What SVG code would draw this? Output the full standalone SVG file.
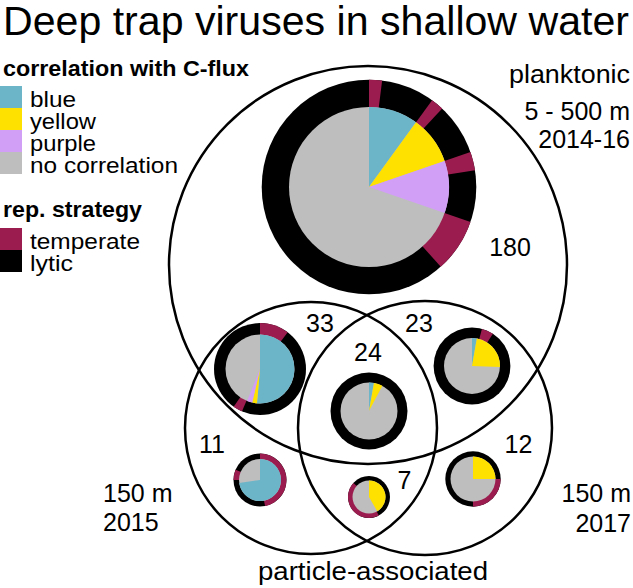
<svg xmlns="http://www.w3.org/2000/svg" width="633" height="588" viewBox="0 0 633 588">
<style>
.t{font-family:"Liberation Sans",Arial,Helvetica,sans-serif;fill:#000}
.h{font-weight:bold;font-size:22px}
.l{font-size:21.5px}
.n{font-size:25px}
.set{fill:none;stroke:#000;stroke-width:2.5}
.b{fill:#6cb5c8}.y{fill:#ffe100}.p{fill:#d19ff6}.g{fill:#bebebe}.m{fill:#9b1d4f}.k{fill:#000}
</style>
<rect width="633" height="588" fill="#fff"/>
<text class="t" x="3" y="35" font-size="40" textLength="626" lengthAdjust="spacingAndGlyphs">Deep trap viruses in shallow water</text>

<g id="legend">
<text class="t h" x="3" y="76" textLength="246" lengthAdjust="spacingAndGlyphs">correlation with C-flux</text>
<rect class="b" x="0" y="86" width="22" height="22"/>
<rect class="y" x="0" y="108" width="22" height="22"/>
<rect class="p" x="0" y="130" width="22" height="22"/>
<rect class="g" x="0" y="152" width="22" height="22"/>
<text class="t l" x="30" y="107" textLength="46" lengthAdjust="spacingAndGlyphs">blue</text>
<text class="t l" x="30" y="129" textLength="66" lengthAdjust="spacingAndGlyphs">yellow</text>
<text class="t l" x="30" y="151" textLength="66" lengthAdjust="spacingAndGlyphs">purple</text>
<text class="t l" x="30" y="173" textLength="148" lengthAdjust="spacingAndGlyphs">no correlation</text>
<text class="t h" x="3" y="217" textLength="139" lengthAdjust="spacingAndGlyphs">rep. strategy</text>
<rect class="m" x="0" y="228" width="22" height="22"/>
<rect class="k" x="0" y="250" width="22" height="22"/>
<text class="t l" x="30" y="249" textLength="110" lengthAdjust="spacingAndGlyphs">temperate</text>
<text class="t l" x="30" y="271" textLength="43" lengthAdjust="spacingAndGlyphs">lytic</text>
</g>

<g id="sets">
<circle id="set-planktonic" class="set" cx="368" cy="265" r="199"/>
<circle id="set-2015" class="set" cx="311" cy="428" r="126"/>
<circle id="set-2017" class="set" cx="425" cy="428" r="127"/>
</g>

<g id="set-labels">
<text class="t n" x="630" y="83" text-anchor="end" textLength="121" lengthAdjust="spacingAndGlyphs">planktonic</text>
<text class="t n" x="630" y="120" text-anchor="end">5 - 500 m</text>
<text class="t n" x="630" y="148" text-anchor="end">2014-16</text>
<text class="t n" x="103" y="502">150 m</text>
<text class="t n" x="103" y="531">2015</text>
<text class="t n" x="631" y="502" text-anchor="end">150 m</text>
<text class="t n" x="631" y="532" text-anchor="end">2017</text>
<text class="t n" x="373" y="580" text-anchor="middle" textLength="230" lengthAdjust="spacingAndGlyphs">particle-associated</text>
</g>

<g id="pie-180">
<circle class="k" cx="369" cy="187" r="107.3"/>
<path class="m" d="M369 187L369 79.7A107.3 107.3 0 0 1 382.1 80.5Z"/>
<path class="m" d="M369 187L432.1 100.2A107.3 107.3 0 0 1 442.2 108.5Z"/>
<path class="m" d="M369 187L470.5 152.1A107.3 107.3 0 0 1 475.0 170.2Z"/>
<path class="m" d="M369 187L470.5 221.9A107.3 107.3 0 0 1 440.8 266.7Z"/>
<circle class="g" cx="369" cy="187" r="80"/>
<path class="b" d="M369 187L369 107A80 80 0 0 1 416.02 122.28Z"/>
<path class="y" d="M369 187L416.02 122.28A80 80 0 0 1 444.64 160.95Z"/>
<path class="p" d="M369 187L444.64 160.95A80 80 0 0 1 444.64 213.05Z"/>
<text class="t n" x="510" y="256" text-anchor="middle">180</text>
</g>

<g id="pie-33">
<circle class="k" cx="260" cy="369" r="46"/>
<path class="m" d="M260 369L260 323A46 46 0 0 1 287.68 332.26Z"/>
<path class="m" d="M260 369L242.03 411.34A46 46 0 0 1 233.61 406.68Z"/>
<circle class="g" cx="260" cy="369" r="34.5"/>
<path class="b" d="M260 369L260 334.5A34.5 34.5 0 1 1 256.99 403.37Z"/>
<path class="y" d="M260 369L256.99 403.37A34.5 34.5 0 0 1 252.24 402.62Z"/>
<path class="p" d="M260 369L252.24 402.62A34.5 34.5 0 0 1 247.08 400.99Z"/>
<text class="t n" x="320" y="332" text-anchor="middle">33</text>
</g>

<g id="pie-24">
<circle class="k" cx="369" cy="411" r="38.5"/>
<circle class="g" cx="369" cy="411" r="28.5"/>
<path class="b" d="M369 411L369 382.5A28.5 28.5 0 0 1 373.95 382.93Z"/>
<path class="y" d="M369 411L373.95 382.93A28.5 28.5 0 0 1 382.38 385.84Z"/>
<text class="t n" x="368" y="361" text-anchor="middle">24</text>
</g>

<g id="pie-23">
<circle class="k" cx="472" cy="366" r="38.4"/>
<path class="m" d="M472 366L481.94 328.91A38.4 38.4 0 0 1 492.91 333.79Z"/>
<circle class="g" cx="472" cy="366" r="28"/>
<path class="b" d="M472 366L472 338A28 28 0 0 1 476.86 338.43Z"/>
<path class="y" d="M472 366L476.86 338.43A28 28 0 0 1 499.98 366.98Z"/>
<text class="t n" x="419" y="332" text-anchor="middle">23</text>
</g>

<g id="pie-11">
<circle class="k" cx="260" cy="480" r="26.5"/>
<path class="m" d="M260 480L260 453.5A26.5 26.5 0 0 1 265.06 506.01Z"/>
<path class="m" d="M260 480L233.5 480A26.5 26.5 0 0 1 235.61 469.65Z"/>
<circle class="g" cx="260" cy="480" r="21"/>
<path class="b" d="M260 480L260 459A21 21 0 1 1 239.2 482.92Z"/>
<text class="t n" x="212" y="453" text-anchor="middle">11</text>
</g>

<g id="pie-7">
<circle class="k" cx="369" cy="497" r="21"/>
<path class="m" d="M369 497L378.86 515.54A21 21 0 0 1 353.39 482.95Z"/>
<circle class="g" cx="369" cy="497" r="16.5"/>
<path class="y" d="M369 497L369 480.5A16.5 16.5 0 0 1 377.25 511.29Z"/>
<text class="t n" x="404.5" y="489" text-anchor="middle">7</text>
</g>

<g id="pie-12">
<circle class="k" cx="473" cy="479" r="27.7"/>
<path class="m" d="M473 479L500.7 479A27.7 27.7 0 0 1 473 506.7Z"/>
<circle class="g" cx="473" cy="479" r="22.5"/>
<path class="y" d="M473 479L473 456.5A22.5 22.5 0 0 1 495.5 479Z"/>
<text class="t n" x="518.5" y="453" text-anchor="middle">12</text>
</g>
</svg>
